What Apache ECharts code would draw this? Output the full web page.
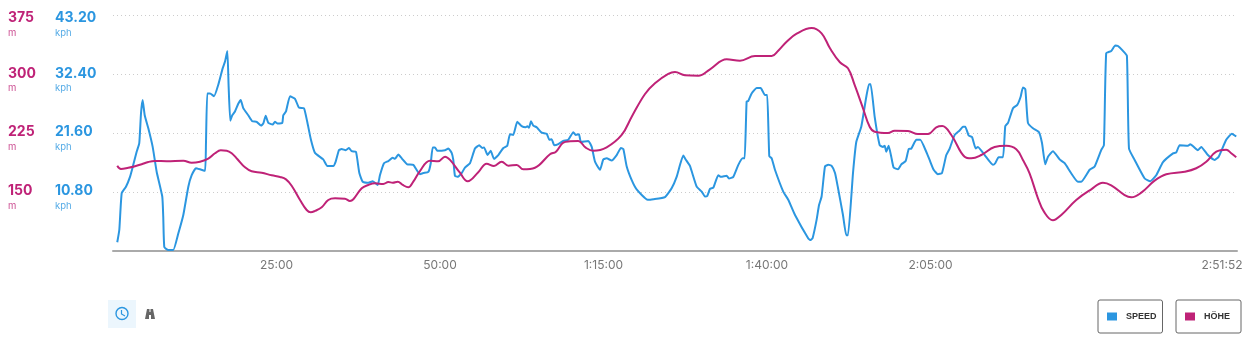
<!DOCTYPE html>
<html>
<head>
<meta charset="utf-8">
<title>Speed / Höhe</title>
<script src="https://cdn.jsdelivr.net/npm/echarts@6/dist/echarts.min.js"></script>
<style>
  html, body { margin: 0; padding: 0; background: #fff; }
  #chart { width: 1258px; height: 351px; }
</style>
</head>
<body>
<div id="chart"></div>
<script>
// [seconds, kph]
const speedPoints = [
  [39,1.6],[58,3.9],[80,10.6],[119,11.8],[156,13.6],[186,15.8],[217,18.2],[241,19.8],[257,25.3],[272,27.7],
  [291,24.9],[324,22.5],[364,19.1],[401,14.5],[452,10.0],[461,6.3],[471,0.7],[507,0.2],[553,0.2],[599,3.2],
  [645,6.6],[691,11.8],[722,13.9],[761,15.2],[798,15.0],[844,14.7],[853,19.8],[865,28.9],[890,28.9],[927,28.4],
  [966,30.5],[1006,33.5],[1027,34.7],[1049,36.7],[1061,30.1],[1076,23.9],[1094,24.9],[1119,25.6],[1149,27.0],[1172,27.7],
  [1195,26.2],[1241,24.9],[1278,23.8],[1318,23.7],[1358,23.0],[1379,23.4],[1401,24.8],[1425,23.5],[1465,23.2],[1486,23.7],
  [1507,23.4],[1553,23.5],[1562,24.9],[1587,25.6],[1624,28.4],[1670,27.9],[1706,26.3],[1752,26.2],[1782,23.7],[1816,20.4],
  [1853,18.0],[1929,16.8],[1966,15.6],[2021,15.6],[2043,16.4],[2073,18.5],[2098,18.7],[2135,18.5],[2165,18.9],[2190,18.3],
  [2229,18.2],[2260,14.3],[2291,12.7],[2342,12.5],[2383,12.8],[2428,12.1],[2449,13.9],[2486,16.1],[2526,16.5],[2566,17.1],
  [2587,16.9],[2617,17.7],[2649,17.0],[2700,15.9],[2755,15.8],[2816,14.1],[2847,14.3],[2893,14.5],[2915,16.1],[2933,19.0],
  [2954,19.0],[2975,18.4],[3046,18.5],[3076,18.8],[3107,18.0],[3122,16.7],[3137,13.8],[3159,13.6],[3199,14.3],[3229,15.3],
  [3275,16.1],[3321,18.8],[3360,19.4],[3388,18.9],[3404,19.0],[3437,17.6],[3465,18.4],[3495,16.9],[3535,17.6],[3581,18.9],
  [3617,19.3],[3642,21.4],[3672,21.3],[3709,23.7],[3749,22.9],[3786,22.7],[3801,22.9],[3816,22.6],[3835,23.8],[3856,23.0],
  [3887,22.7],[3933,21.7],[3979,21.5],[4003,20.4],[4025,20.5],[4048,19.4],[4085,19.6],[4131,20.2],[4177,20.4],[4223,21.8],
  [4245,21.3],[4275,21.4],[4293,20.0],[4360,20.2],[4392,19.1],[4422,16.4],[4468,14.9],[4498,16.8],[4529,17.0],[4575,16.6],
  [4621,17.6],[4660,18.9],[4682,18.7],[4713,15.5],[4759,13.0],[4804,11.3],[4905,9.4],[4957,9.5],[5064,9.9],[5125,11.5],
  [5171,13.6],[5232,17.5],[5254,16.8],[5293,15.6],[5355,11.8],[5401,10.9],[5431,10.0],[5452,10.1],[5477,11.4],[5507,11.6],
  [5553,13.9],[5578,13.6],[5630,13.8],[5651,13.3],[5691,13.6],[5737,15.8],[5777,17.0],[5795,17.0],[5813,27.4],[5828,27.5],
  [5859,28.9],[5905,29.9],[5942,29.9],[5981,28.6],[6002,28.6],[6021,17.4],[6043,17.0],[6073,14.9],[6149,10.9],[6195,9.4],
  [6257,6.6],[6379,2.3],[6400,2.0],[6419,2.4],[6455,5.7],[6477,8.4],[6501,10.0],[6532,15.5],[6562,15.8],[6593,15.6],
  [6624,14.3],[6651,11.6],[6697,6.6],[6727,2.9],[6743,2.9],[6789,14.3],[6819,20.0],[6865,22.8],[6911,28.3],[6936,30.6],
  [6951,30.6],[6988,24.6],[7034,19.4],[7064,19.1],[7080,19.3],[7094,18.2],[7116,19.3],[7140,17.3],[7162,15.3],[7202,15.0],
  [7232,15.9],[7272,16.5],[7300,18.7],[7324,18.8],[7370,20.4],[7406,20.4],[7461,18.2],[7492,16.7],[7529,14.9],[7568,14.1],
  [7605,14.3],[7645,17.6],[7676,18.8],[7722,21.3],[7767,22.1],[7798,22.8],[7819,22.8],[7850,21.2],[7881,20.9],[7915,18.8],
  [7935,19.1],[7997,17.6],[8073,15.8],[8094,16.1],[8125,17.2],[8165,17.2],[8186,22.9],[8211,23.5],[8257,26.2],[8296,26.8],
  [8327,28.3],[8348,30.0],[8370,29.7],[8394,23.5],[8440,22.5],[8495,21.8],[8523,19.8],[8553,15.9],[8578,17.3],[8623,18.3],
  [8685,16.8],[8731,16.1],[8853,12.7],[8883,12.7],[8960,14.9],[9006,15.5],[9066,18.5],[9091,19.4],[9112,36.3],[9158,36.7],
  [9195,37.7],[9220,37.6],[9266,36.7],[9302,35.8],[9321,18.8],[9373,16.7],[9465,13.3],[9516,12.8],[9571,13.9],[9633,16.3],
  [9725,17.9],[9755,18.1],[9786,19.4],[9862,19.3],[9883,19.6],[9954,18.5],[9984,19.1],[10045,17.6],[10107,16.7],[10144,17.3],
  [10213,20.4],[10265,21.5],[10305,21.0]
]

// [seconds, metres]
const elevationPoints = [
  [39,183.7],[73,179.5],[140,181],[202,183],[263,185.5],[324,188.4],[385,189.7],[493,189.3],[645,190],[722,187.5],
  [798,188.8],[874,192.6],[936,199.5],[988,203.3],[1043,202.8],[1089,199.5],[1140,192.2],[1211,181.6],[1272,176.5],[1364,174.7],
  [1456,171.4],[1532,169.3],[1587,166.3],[1639,158.2],[1716,140],[1777,127.2],[1814,124.3],[1853,126],[1915,130.7],[1975,140],
  [2037,142.1],[2128,141.6],[2174,138.7],[2205,140.9],[2282,154.9],[2342,159.1],[2404,161.2],[2480,160.4],[2526,162.9],[2566,162],
  [2612,163.3],[2658,159.1],[2709,156.1],[2755,163.3],[2816,176.9],[2908,190],[2984,189.3],[3046,195.1],[3092,191],[3183,174.7],
  [3254,163.8],[3351,175.3],[3428,186.2],[3495,183.3],[3566,188.8],[3627,183.7],[3704,184.6],[3764,179],[3871,181.1],[4009,198.2],
  [4064,201.5],[4131,213],[4193,214.7],[4269,215.1],[4337,206.6],[4406,202.8],[4529,207.1],[4667,222.8],[4759,246.1],[4881,275],
  [4972,288.6],[5094,300.5],[5156,303],[5248,298.8],[5370,298.3],[5477,306.5],[5630,319.2],[5752,317.4],[5890,323.4],[6043,323.4],
  [6103,330.2],[6180,341.6],[6272,351.8],[6410,359.1],[6501,352.3],[6578,333.2],[6669,315.4],[6743,307.7],[6804,286.5],[6881,256.8],
  [6942,233.3],[6988,227],[7110,225.3],[7171,228.2],[7293,227.9],[7385,224],[7477,224],[7553,232.6],[7608,234.2],[7691,222.8],
  [7813,195.1],[7874,193.1],[7966,197.3],[8088,207.5],[8195,209.1],[8287,204.6],[8348,191],[8409,174],[8486,142.1],[8541,125.1],
  [8623,114.1],[8700,120.9],[8837,140],[8975,153.6],[9082,162],[9158,158.7],[9281,146.3],[9342,143.4],[9434,149.3],[9556,164.6],
  [9663,172.7],[9832,176],[9938,180.4],[10030,188.8],[10122,201.5],[10213,204],[10259,199.5],[10305,194.4]
]

const timeTicks = [1500, 3000, 4500, 6000, 7500, 10312]
const timeLabels = ['25:00', '50:00', '1:15:00', '1:40:00', '2:05:00', '2:51:52']

const BLUE = '#2b96e0'
const PINK = '#bf2277'
const FONT = 'Inter, "Noto Sans", sans-serif'

const chart = echarts.init(document.getElementById('chart'))

// y axis labels: bold value, small unit below it
// the blank first line pushes the value up next to its gridline, the top one sits a bit lower
const yLabel = (color, unit, digits, top) => ({
  show: true,
  showMinLabel: false,
  align: 'left',
  verticalAlign: 'middle',
  verticalAlignMaxLabel: 'middle',
  formatter: (v) => '{' + (v === top ? 'st' : 's') + '| }\n{v|' + v.toFixed(digits) + '}\n{u|' + unit + '}',
  rich: {
    s: { fontSize: 9, lineHeight: 13 },
    st: { fontSize: 9, lineHeight: 20 },
    v: { color, fontFamily: FONT, fontSize: 14, fontWeight: 700, lineHeight: 15 },
    u: { color, opacity: 0.8, fontFamily: FONT, fontSize: 9.5, lineHeight: 15 }
  }
})

const legendBox = (name, left, rightPad) => ({
  data: [name],
  left,
  top: 300,
  icon: 'rect',
  itemWidth: 10,
  itemHeight: 8,
  itemGap: 0,
  padding: [12, rightPad, 12, 9],
  borderColor: '#666',
  borderWidth: 1,
  borderRadius: 2,
  selectedMode: false,
  textStyle: {
    color: '#333',
    fontFamily: '"Liberation Sans", sans-serif',
    fontSize: 9,
    fontWeight: 700,
    padding: [0, 0, 0, 4]
  }
})

const option = {
  animation: false,
  backgroundColor: '#fff',
  grid: { left: 113, right: 21, top: 15.5, bottom: 100, outerBoundsMode: 'none' },
  legend: [legendBox('SPEED', 1098, 6), legendBox('HÖHE', 1176, 11)],
  xAxis: {
    type: 'value',
    min: 0,
    max: 10312,
    splitLine: { show: false },
    axisTick: { show: false },
    axisLine: { onZero: false, lineStyle: { color: '#aaa', width: 2 } },
    axisLabel: {
      customValues: timeTicks,
      margin: 8,
      color: '#777',
      fontFamily: FONT,
      fontSize: 12,
      formatter: (v) => {
        const label = timeLabels[timeTicks.indexOf(v)]
        return v === 10312 ? '{end|' + label + '}' : label
      },
      rich: { end: { color: '#777', fontFamily: FONT, fontSize: 12, padding: [0, 30, 0, 0] } }
    }
  },
  yAxis: [
    {
      type: 'value',
      min: 0,
      max: 43.2,
      interval: 10.8,
      axisLine: { show: false },
      axisTick: { show: false },
      splitLine: { lineStyle: { color: '#ccc', type: [1, 3], width: 1 } },
      axisLabel: { ...yLabel(BLUE, 'kph', 2, 43.2), margin: 58 }
    },
    {
      type: 'value',
      position: 'left',
      min: 75,
      max: 375,
      interval: 75,
      axisLine: { show: false },
      axisTick: { show: false },
      splitLine: { show: false },
      axisLabel: { ...yLabel(PINK, 'm', 0, 375), margin: 105 }
    }
  ],
  series: [
    {
      name: 'SPEED',
      type: 'line',
      yAxisIndex: 0,
      data: speedPoints,
      showSymbol: false,
      smooth: 0.15,
      color: BLUE,
      lineStyle: { color: BLUE, width: 2 },
      z: 2
    },
    {
      name: 'HÖHE',
      type: 'line',
      yAxisIndex: 1,
      data: elevationPoints,
      showSymbol: false,
      smooth: 0.4,
      color: PINK,
      lineStyle: { color: PINK, width: 2 },
      z: 3
    }
  ],
  graphic: [
    { type: 'rect', shape: { x: 108, y: 300, width: 28, height: 28 }, style: { fill: '#ecf6fd' } },
    { type: 'circle', shape: { cx: 122, cy: 313.5, r: 6 }, style: { fill: 'none', stroke: BLUE, lineWidth: 1.4 } },
    { type: 'polyline', shape: { points: [[121.5, 310], [121.5, 314], [125, 316]] }, style: { fill: 'none', stroke: BLUE, lineWidth: 1.2 } },
    {
      type: 'polygon',
      shape: { points: [[147, 309], [149.5, 309], [149.5, 312], [150.5, 312], [150.5, 309], [153, 309], [155, 319], [151, 319], [151, 315], [149, 315], [149, 319], [145, 319]] },
      style: { fill: '#666' }
    }
  ]
}

chart.setOption(option)
</script>
</body>
</html>
